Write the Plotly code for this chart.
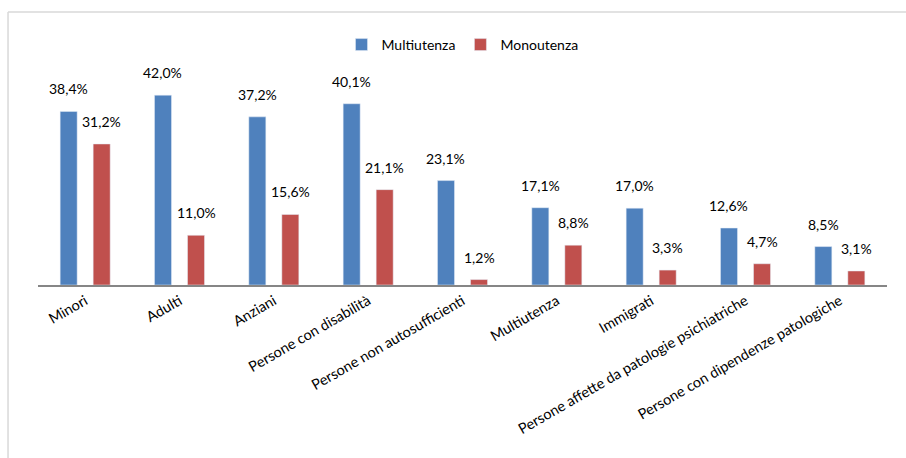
import plotly.graph_objects as go

categories = [
    "Minori",
    "Adulti",
    "Anziani",
    "Persone con disabilità",
    "Persone non autosufficienti",
    "Multiutenza",
    "Immigrati",
    "Persone affette da patologie psichiatriche",
    "Persone con dipendenze patologiche",
]
multiutenza = [38.4, 42.0, 37.2, 40.1, 23.1, 17.1, 17.0, 12.6, 8.5]
monoutenza = [31.2, 11.0, 15.6, 21.1, 1.2, 8.8, 3.3, 4.7, 3.1]

BLUE = "#4F81BD"
RED = "#C0504D"
FONT = "Lato, Carlito, 'Liberation Sans', sans-serif"

idx = list(range(len(categories)))


def fmt(v):
    return f"{v:.1f}%".replace(".", ",")


fig = go.Figure()
fig.add_trace(go.Bar(name="Multiutenza", x=idx, y=multiutenza, marker_color=BLUE))
fig.add_trace(go.Bar(name="Monoutenza", x=idx, y=monoutenza, marker_color=RED))

# value labels above each bar
offset = 0.175
annotations = []
for i, (a, b) in enumerate(zip(multiutenza, monoutenza)):
    for xv, yv in ((i - offset, a), (i + offset, b)):
        annotations.append(dict(
            x=xv, y=yv, xref="x", yref="y", text=fmt(yv), showarrow=False,
            yanchor="bottom", yshift=12, font=dict(size=14, color="#000000", family=FONT),
        ))

fig.update_layout(
    width=906,
    height=458,
    margin=dict(l=38, r=19, t=59, b=173),
    paper_bgcolor="white",
    plot_bgcolor="white",
    barmode="group",
    bargap=0.30,
    bargroupgap=0.485,
    font=dict(family=FONT, size=14, color="#000000"),
    showlegend=True,
    legend=dict(
        orientation="h", x=0.5, xanchor="center", y=1.062, yanchor="middle",
        font=dict(size=14, color="#000000"), itemwidth=30, traceorder="normal",
    ),
    annotations=annotations,
    shapes=[
        # chart frame (left and top edges visible)
        dict(type="line", xref="paper", yref="paper", x0=-0.0353, x1=1.03, y0=1.208, y1=1.208,
             line=dict(color="#D9D9D9", width=1.5)),
        dict(type="line", xref="paper", yref="paper", x0=-0.0353, x1=-0.0353, y0=1.208, y1=-0.8,
             line=dict(color="#D9D9D9", width=1.5)),
    ],
)

fig.update_xaxes(
    tickmode="array", tickvals=idx, ticktext=categories, range=[-0.5, len(categories) - 0.5],
    tickangle=-30, showline=True, linecolor="#868686", linewidth=2, showgrid=False,
    ticks="", tickfont=dict(size=14.5, color="#000000"), zeroline=False,
)
fig.update_yaxes(range=[0, 50], visible=False, showgrid=False, zeroline=False)

fig.write_html("out.html")
